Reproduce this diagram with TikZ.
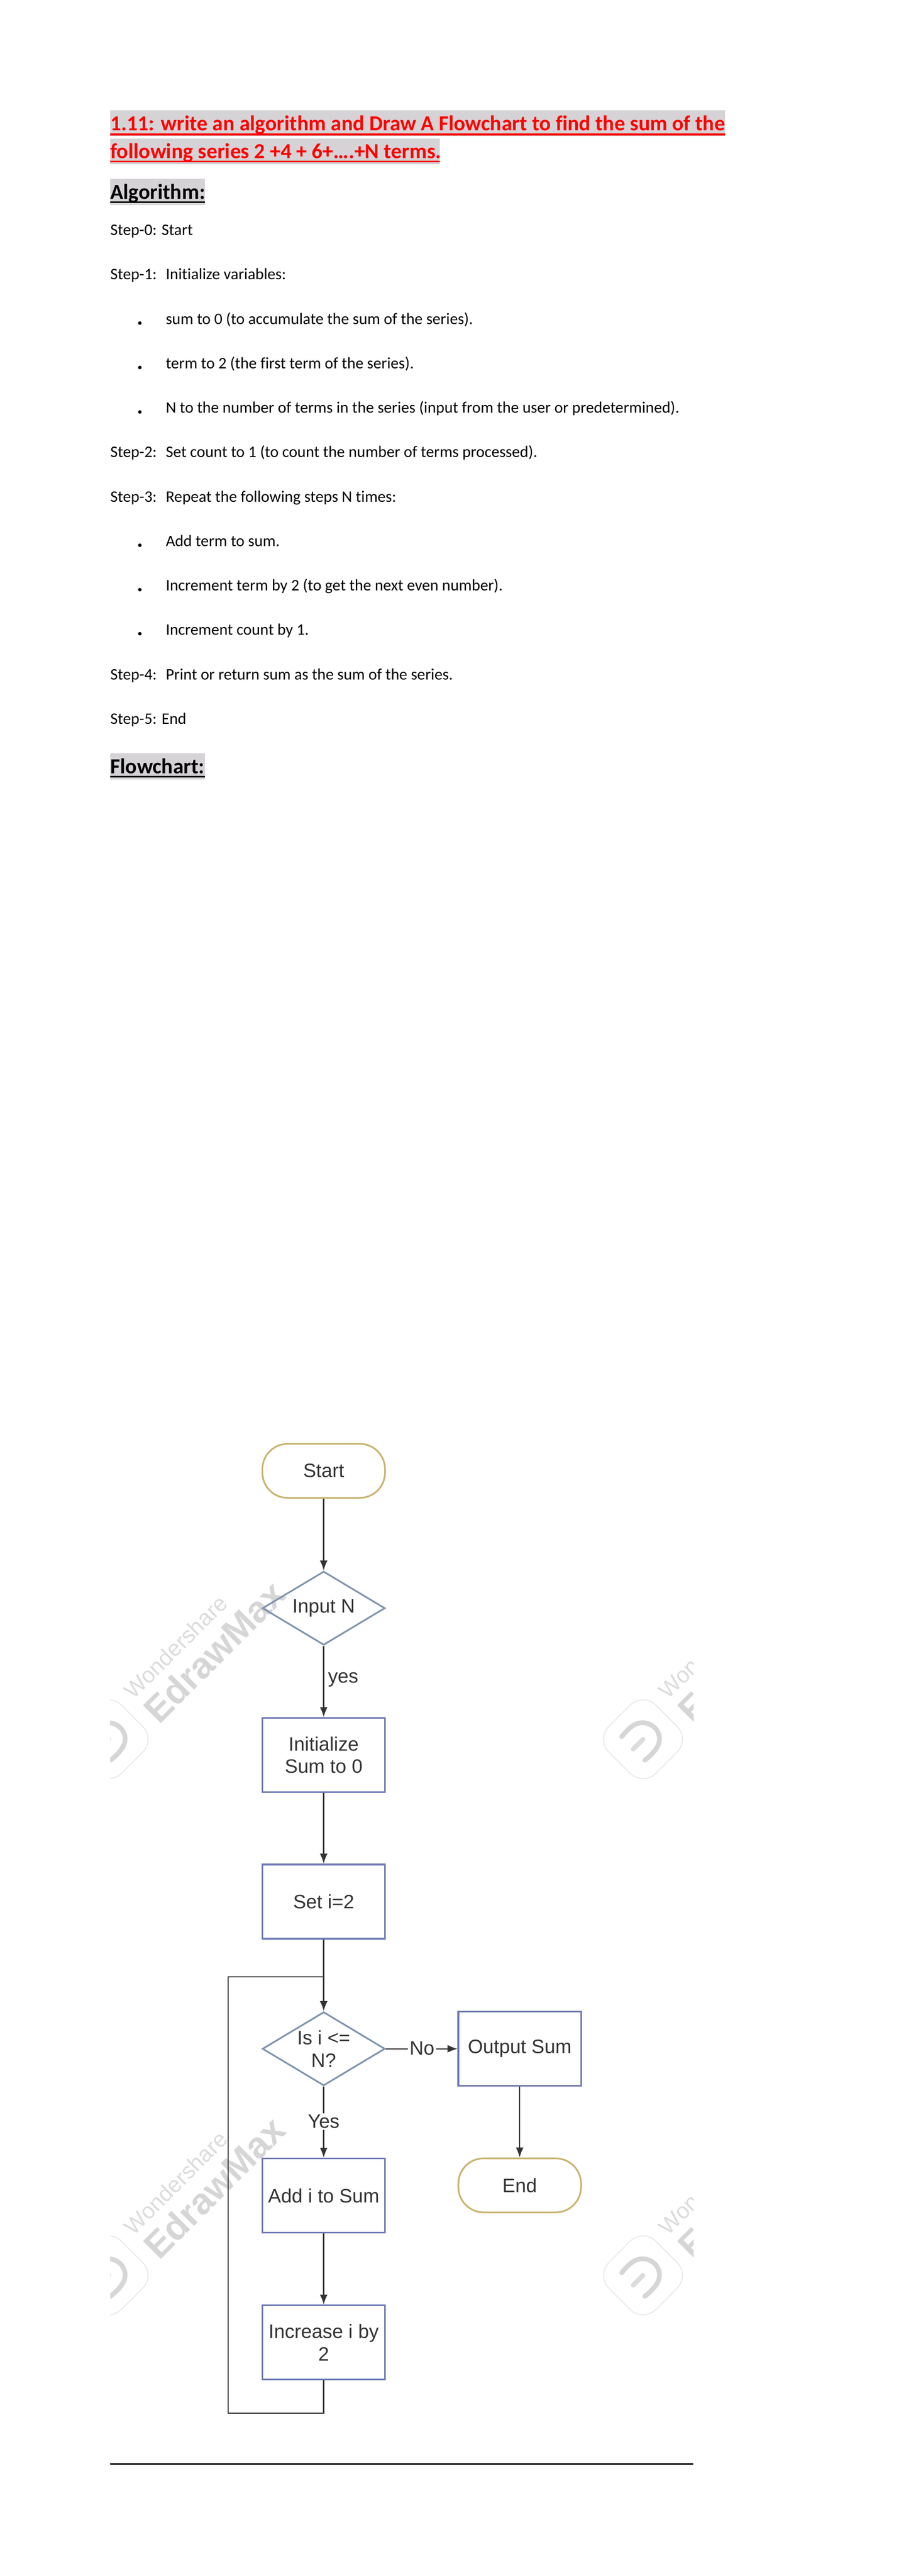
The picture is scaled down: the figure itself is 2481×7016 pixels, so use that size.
\documentclass[tikz,border=0pt]{standalone}
\usepackage{fontspec}
\setmainfont[Ligatures=NoCommon]{Carlito}
\newfontfamily\flowfont{Liberation Sans}
\usetikzlibrary{arrows.meta,shapes.geometric}
\definecolor{hl}{HTML}{D5D3D6}
\definecolor{termc}{HTML}{C9B36E}
\definecolor{diac}{HTML}{7F95AE}
\definecolor{boxc}{HTML}{6E78B2}
\definecolor{linec}{HTML}{333333}
\definecolor{txtc}{HTML}{333333}
\definecolor{wmA}{HTML}{DCDCDC}
\definecolor{wmB}{HTML}{D6D6D6}
\definecolor{wmC}{HTML}{EAEAEA}
\tikzset{
  titletext/.style={anchor=base west,inner sep=0pt,text=red,font=\fontsize{14}{17}\selectfont\bfseries},
  headtext/.style={anchor=base west,inner sep=0pt,text=black,font=\fontsize{14}{17}\selectfont\bfseries},
  bodytext/.style={anchor=base west,inner sep=0pt,text=black,font=\fontsize{10.5}{13}\selectfont},
  bdot/.style={circle,fill=black,inner sep=0pt,minimum size=2.3pt},
  termbox/.style={draw=termc,line width=1.1pt,rectangle,rounded corners=16.5pt,minimum width=80.2pt,minimum height=35.3pt,inner sep=0pt,text=txtc,font=\flowfont\fontsize{12.7}{14.6}\selectfont,align=center},
  procbox/.style={draw=boxc,line width=1.1pt,rectangle,minimum width=80.2pt,minimum height=48.5pt,inner sep=0pt,text=txtc,font=\flowfont\fontsize{12.7}{14.6}\selectfont,align=center},
  diabox/.style={draw=diac,line width=1.1pt,diamond,aspect=1.65,minimum width=80.2pt,minimum height=48.2pt,inner sep=0pt},
  flowtext/.style={inner sep=0pt,text=txtc,font=\flowfont\fontsize{12.7}{14.6}\selectfont,align=center},
  edgelabel/.style={inner sep=1pt,fill=white,text=txtc,font=\flowfont\fontsize{12.7}{14.6}\selectfont},
  conn/.style={draw=linec,line width=0.75pt},
  arrowconn/.style={conn,-{Latex[length=6.5pt,width=5pt]}},
}
\newcommand{\wmark}[2]{%
  \begin{scope}[shift={(#1,#2)}]
    \node[rotate=45,anchor=base west,inner sep=0pt,text=wmA,font=\flowfont\fontsize{14.7}{16}\selectfont] at (68,-106) {Wondershare};
    \node[rotate=45,anchor=base west,inner sep=0pt,text=wmB,font=\flowfont\bfseries\fontsize{24}{26}\selectfont] at (137,-38) {EdrawMax};
    \draw[wmC,line width=0.7pt,rounded corners=12pt] (-128,0) -- (0,-128) -- (128,0) -- (0,128) -- cycle;
    \draw[wmB,line width=3.1pt,line cap=round] (-58,-7) .. controls (-35,-35) and (-20,-45) .. (-2,-45) .. controls (25,-45) and (45,-25) .. (45,0) .. controls (45,20) and (25,42) .. (5,57);
    \draw[wmA,line width=3pt,line cap=round] (-27,27) -- (0,0);
  \end{scope}}
\begin{document}
\begin{tikzpicture}[x=0.24pt,y=-0.24pt]
\useasboundingbox (0,0) rectangle (2481,7016);
% highlights
\fill[hl] (300,300) rectangle (1976,371);
\fill[hl] (300,377) rectangle (1199,448);
\fill[hl] (300,487) rectangle (559,558);
\fill[hl] (300,2052) rectangle (558,2123);
% title
\node[titletext] (t1) at (300,355) {1.11: write an algorithm and Draw A Flowchart to find the sum of the};
\node[titletext] (t2) at (300,432) {following series 2 +4 + 6+….+N terms.};
\draw[red,line width=1.2pt] (300,366.5) -- (1976,366.5);
\draw[red,line width=1.2pt] (300,440) -- (1199,440);
\node[headtext] (h1) at (300,543) {Algorithm:};
\draw[black,line width=1.2pt] (300,550.5) -- (559,550.5);
% algorithm
\node[bodytext] (s0) at (300,640) {Step-0: Start};
\node[bodytext] (s1) at (300,761) {Step-1:\ \ \hspace{1.2pt}Initialize variables:};
\node[bodytext] (b1) at (451,883) {sum to 0 (to accumulate the sum of the series).};
\node[bodytext] (b2) at (451,1004) {term to 2 (the first term of the series).};
\node[bodytext] (b3) at (451,1125) {N to the number of terms in the series (input from the user or predetermined).};
\node[bodytext] (s2) at (300,1246) {Step-2:\ \ \hspace{1.2pt}Set count to 1 (to count the number of terms processed).};
\node[bodytext] (s3) at (300,1368) {Step-3:\ \ \hspace{1.2pt}Repeat the following steps N times:};
\node[bodytext] (b4) at (451,1488) {Add term to sum.};
\node[bodytext] (b5) at (451,1609) {Increment term by 2 (to get the next even number).};
\node[bodytext] (b6) at (451,1729) {Increment count by 1.};
\node[bodytext] (s4) at (300,1852) {Step-4:\ \ \hspace{1.2pt}Print or return sum as the sum of the series.};
\node[bodytext] (s5) at (300,1972) {Step-5: End};
\node[headtext] (h2) at (300,2107) {Flowchart:};
\draw[black,line width=1.2pt] (300,2115) -- (558,2115);
\foreach \yy/\nn in {880/d1,1001/d2,1122/d3,1485/d4,1606/d5,1726/d6}{
  \node[bdot] (\nn) at (381,\yy) {};
}
% watermarks
\begin{scope}
  \clip (300,3800) rectangle (1889,6680);
  \wmark{296}{4737}
  \wmark{1752}{4737}
  \wmark{296}{6197}
  \wmark{1752}{6197}
\end{scope}
% flowchart
\node[termbox] (start) at (882,4006) {Start};
\node[diabox] (inN) at (882,4380) {};
\node[flowtext] (inNt) at (inN) {Input N};
\node[procbox] (init) at (882,4780) {Initialize\\Sum to 0};
\node[procbox] (seti) at (882,5179) {Set i=2};
\node[diabox] (test) at (882,5580) {};
\node[flowtext] (testt) at (test) {Is i <=\\N?};
\node[procbox] (addi) at (882,5980) {Add i to Sum};
\node[procbox] (inc) at (882,6380) {Increase i by\\2};
\node[procbox] (out) at (1416,5580) {Output Sum};
\node[termbox] (endn) at (1416,5952) {End};
\coordinate (lb) at (622,6572);
\coordinate (lt) at (622,5384);
\coordinate (jn) at (882,5384);
\draw[arrowconn] (start.south) -- (inN.north);
\draw[arrowconn] (inN.south) -- (init.north);
\draw[arrowconn] (init.south) -- (seti.north);
\draw[arrowconn] (seti.south) -- (test.north);
\draw[arrowconn] (test.south) -- (addi.north);
\draw[arrowconn] (test.east) -- (out.west);
\draw[arrowconn] (addi.south) -- (inc.north);
\draw[arrowconn] (out.south) -- (endn.north);
\draw[conn] (inc.south) |- (lb) -- (lt) -- (jn);
\node[flowtext,anchor=base west] (lyes) at (893,4584) {yes};
\node[edgelabel,anchor=base] (lYes) at (882,5796) {Yes};
\node[edgelabel,anchor=base] (lNo) at (1150,5597) {No};
% bottom rule
\coordinate (r1) at (300,6711);
\coordinate (r2) at (1889,6711);
\draw[black,line width=1.1pt] (r1) -- (r2);
\end{tikzpicture}
\end{document}
